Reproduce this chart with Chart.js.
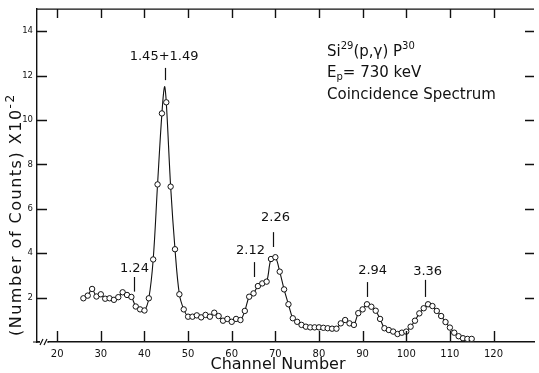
<!DOCTYPE html>
<html>
<head>
<meta charset="utf-8">
<script src="https://cdn.jsdelivr.net/npm/chart.js@4.4.1/dist/chart.umd.min.js"></script>
<style>
  html, body { margin: 0; padding: 0; background: #fff; }
  canvas { display: block; }
</style>
</head>
<body>
<canvas id="spectrum" width="539" height="373"></canvas>
<script>
// coincidence spectrum, counts in units of 100
const channels = [
  26, 27, 28, 29, 30, 31, 32, 33, 34, 35, 36, 37, 38, 39, 40,
  41, 42, 43, 44, 45, 46, 47, 48, 49, 50, 51, 52, 53, 54, 55,
  56, 57, 58, 59, 60, 61, 62, 63, 64, 65, 66, 67, 68, 69, 70,
  71, 72, 73, 74, 75, 76, 77, 78, 79, 80, 81, 82, 83, 84, 85,
  86, 87, 88, 89, 90, 91, 92, 93, 94, 95, 96, 97, 98, 99, 100,
  101, 102, 103, 104, 105, 106, 107, 108, 109, 110, 111, 112, 113, 114, 115
];
const counts = [
  1.97, 2.09, 2.39, 2.05, 2.15, 1.95, 1.97, 1.90, 2.02, 2.24, 2.12, 2.03, 1.60, 1.47, 1.42,
  1.97, 3.72, 7.10, 10.30, 10.80, 7.00, 4.18, 2.15, 1.47, 1.14, 1.14, 1.20, 1.11, 1.22, 1.14,
  1.32, 1.17, 0.96, 1.04, 0.91, 1.04, 0.99, 1.40, 2.04, 2.19, 2.52, 2.64, 2.72, 3.74, 3.82,
  3.17, 2.37, 1.70, 1.07, 0.91, 0.77, 0.69, 0.66, 0.66, 0.66, 0.64, 0.62, 0.60, 0.60, 0.84,
  0.99, 0.84, 0.77, 1.30, 1.47, 1.70, 1.59, 1.41, 1.04, 0.62, 0.54, 0.47, 0.36, 0.42, 0.47,
  0.69, 0.96, 1.29, 1.52, 1.70, 1.62, 1.40, 1.17, 0.90, 0.65, 0.42, 0.26, 0.17, 0.14, 0.14
];
// top of the drawn curve over the 1.45+1.49 doublet
const apexChannels = [44.6];
const apexCounts = [11.5];

const xTicks = [20, 30, 40, 50, 60, 70, 80, 90, 100, 110, 120];
const yTicks = [2, 4, 6, 8, 10, 12, 14];

const peakLabels = ['1.24', '1.45+1.49', '2.12', '2.26', '2.94', '3.36'];
const peakChannels = [37.6, 44.7, 65.1, 69.5, 90.9, 104.4];

// where each peak label and its marker sit (channel / counts units)
const peakMarks = [
  { tx: 37.7, ty: 3.30, top: 2.93, bot: 2.27 },
  { tx: 44.5, ty: 12.85, top: 12.35, bot: 11.80 },
  { tx: 64.3, ty: 4.10, top: 3.60, bot: 2.93 },
  { tx: 70.05, ty: 5.60, top: 4.95, bot: 4.28 },
  { tx: 92.3, ty: 3.20, top: 2.70, bot: 2.03 },
  { tx: 104.9, ty: 3.15, top: 2.80, bot: 2.03 }
];

const FONT = 'DejaVu Sans';
Chart.defaults.font.family = FONT;
Chart.defaults.color = '#111';

const points = channels.map((c, i) => ({ x: c, y: counts[i] }));
const curve = points
  .concat(apexChannels.map((c, i) => ({ x: c, y: apexCounts[i] })))
  .sort((a, b) => a.x - b.x);

function textRun(ctx, x, y, parts) {
  parts.forEach(p => {
    ctx.font = p.size + 'px ' + FONT;
    ctx.fillText(p.t, x, y + (p.dy || 0));
    x += ctx.measureText(p.t).width + (p.gap || 0);
  });
}

const frame = {
  id: 'frame',
  afterDraw(chart) {
    const { ctx, chartArea: a, scales: { x, y } } = chart;
    ctx.save();
    ctx.strokeStyle = '#111';
    ctx.lineWidth = 1.4;
    ctx.beginPath();
    ctx.moveTo(a.left, a.top);
    ctx.lineTo(a.right, a.top);
    yTicks.forEach(v => {
      const py = Math.round(y.getPixelForValue(v)) + 0.5;
      ctx.moveTo(a.left, py); ctx.lineTo(a.left + 10, py);
      ctx.moveTo(a.right, py); ctx.lineTo(a.right - 9, py);
    });
    xTicks.forEach(v => {
      const px = Math.round(x.getPixelForValue(v)) + 0.5;
      ctx.moveTo(px, a.bottom); ctx.lineTo(px, a.bottom - 11);
      ctx.moveTo(px, a.top); ctx.lineTo(px, a.top + 9);
    });
    ctx.stroke();

    // broken channel axis near the origin
    ctx.fillStyle = '#fff';
    ctx.fillRect(a.left + 3, a.bottom - 3, 8, 6);
    ctx.beginPath();
    ctx.moveTo(a.left - 4, a.bottom); ctx.lineTo(a.left + 3, a.bottom);
    ctx.moveTo(a.left + 3, a.bottom + 3); ctx.lineTo(a.left + 6, a.bottom - 3);
    ctx.moveTo(a.left + 7, a.bottom + 3); ctx.lineTo(a.left + 10, a.bottom - 3);
    ctx.moveTo(a.left + 10, a.bottom); ctx.lineTo(a.left + 12, a.bottom);
    ctx.lineWidth = 1.2;
    ctx.stroke();

    // peak energies with their markers
    ctx.fillStyle = '#111';
    ctx.font = '13px ' + FONT;
    ctx.textAlign = 'center';
    ctx.textBaseline = 'middle';
    ctx.lineWidth = 1.2;
    peakLabels.forEach((lab, i) => {
      const m = peakMarks[i];
      ctx.fillText(lab, x.getPixelForValue(m.tx), y.getPixelForValue(m.ty));
      const px = Math.round(x.getPixelForValue(peakChannels[i])) + 0.5;
      ctx.beginPath();
      ctx.moveTo(px, y.getPixelForValue(m.top));
      ctx.lineTo(px, y.getPixelForValue(m.bot));
      ctx.stroke();
    });

    // axis titles
    ctx.textAlign = 'center';
    ctx.textBaseline = 'alphabetic';
    ctx.font = '16px ' + FONT;
    ctx.fillText('Channel Number', 278, 369);

    ctx.save();
    ctx.translate(21, 336);
    ctx.rotate(-Math.PI / 2);
    ctx.textAlign = 'left';
    ctx.letterSpacing = '1.5px';
    textRun(ctx, 0, 0, [
      { t: '(Number of Counts) X10', size: 16 },
      { t: '-2', size: 12, dy: -7 }
    ]);
    ctx.restore();

    // reaction and run conditions
    ctx.textAlign = 'left';
    textRun(ctx, 327, 56, [
      { t: 'Si', size: 15 },
      { t: '29', size: 10, dy: -7 },
      { t: '(p,γ) P', size: 15 },
      { t: '30', size: 10, dy: -7 }
    ]);
    textRun(ctx, 327, 77, [
      { t: 'E', size: 15 },
      { t: 'p', size: 10, dy: 3 },
      { t: '= 730 keV', size: 15 }
    ]);
    textRun(ctx, 327, 99, [{ t: 'Coincidence Spectrum', size: 15 }]);
    ctx.restore();
  }
};

new Chart(document.getElementById('spectrum'), {
  type: 'scatter',
  data: {
    datasets: [
      {
        data: points,
        pointRadius: 2.7,
        pointBorderWidth: 1,
        pointBorderColor: '#111',
        pointBackgroundColor: '#fff',
        showLine: false
      },
      {
        data: curve,
        showLine: true,
        tension: 0.35,
        borderColor: '#111',
        borderWidth: 1.1,
        pointRadius: 0
      }
    ]
  },
  options: {
    responsive: false,
    animation: false,
    devicePixelRatio: 1,
    layout: { padding: { top: 9, left: 0, right: 0, bottom: 0 } },
    plugins: { legend: { display: false }, tooltip: { enabled: false } },
    scales: {
      x: {
        type: 'linear',
        min: 15.37,
        max: 129.28,
        afterFit: s => { s.height = 31; },
        afterBuildTicks: s => { s.ticks = xTicks.map(v => ({ value: v })); },
        grid: { display: false, drawTicks: false },
        border: { display: true, color: '#111', width: 1.4 },
        ticks: { font: { size: 10 }, padding: 6, color: '#111', maxRotation: 0 }
      },
      y: {
        min: 0,
        max: 15,
        afterFit: s => { s.width = 37; },
        afterBuildTicks: s => { s.ticks = yTicks.map(v => ({ value: v })); },
        grid: { display: false, drawTicks: false },
        border: { display: true, color: '#111', width: 1.4 },
        ticks: { font: { size: 8.5 }, padding: 4, color: '#111' }
      }
    }
  },
  plugins: [frame]
});
</script>
</body>
</html>
